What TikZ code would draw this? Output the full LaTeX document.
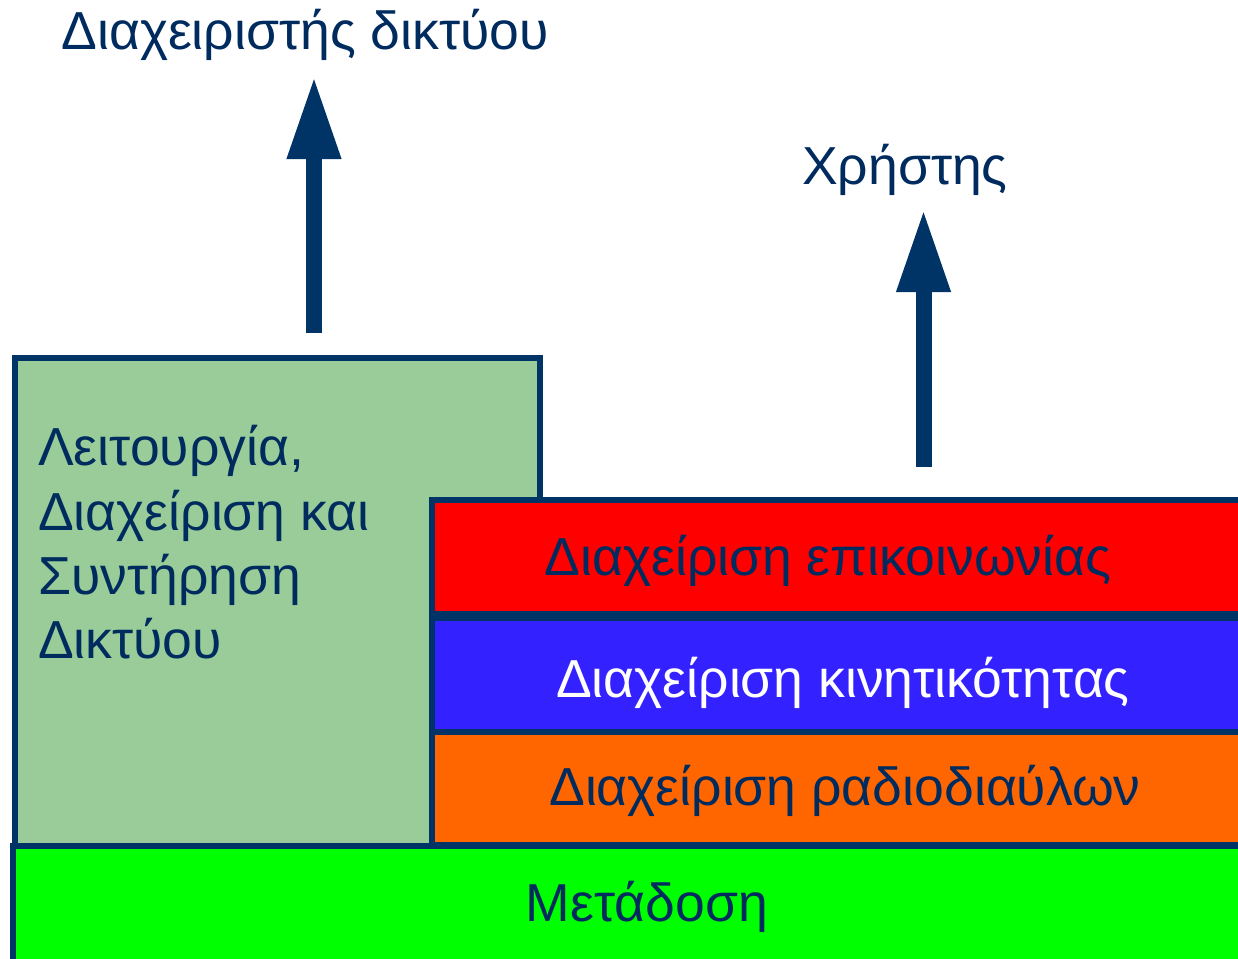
\documentclass[tikz,border=0pt]{standalone}
\usepackage{fontspec}
\setmainfont{Liberation Sans}
\usetikzlibrary{arrows.meta}
\definecolor{navy}{HTML}{003366}
\definecolor{inkblue}{HTML}{002B5E}
\definecolor{sage}{HTML}{99CC99}
\definecolor{bandred}{HTML}{FF0000}
\definecolor{bandblue}{HTML}{3322FF}
\definecolor{bandorange}{HTML}{FF6600}
\definecolor{bandgreen}{HTML}{00FF00}
\tikzset{
  band/.style={draw=navy, line width=6pt, rectangle, inner sep=0pt, outer sep=0pt, anchor=north west},
  label/.style={text=inkblue, inner sep=0pt, font=\fontsize{53.5}{60}\selectfont},
  uparrow/.style={draw=navy, line width=16pt, -{Triangle[width=50pt,length=83pt]}, fill=navy},
}
\begin{document}
\begin{tikzpicture}[x=1pt,y=-1pt]
\useasboundingbox (0,0) rectangle (1238,958);
\clip (0,0) rectangle (1238,958);
% left block: operation and maintenance
\node[band, fill=sage, minimum width=525pt, minimum height=520pt] (oam) at (15,358) {};
% stacked control bands
\node[band, fill=bandred, minimum width=830pt, minimum height=114pt] (comm) at (432,500) {};
\node[band, fill=bandblue, minimum width=830pt, minimum height=114pt] (mob) at (432,618) {};
\node[band, fill=bandorange, minimum width=830pt, minimum height=113pt] (radio) at (432,732) {};
% transmission layer
\node[band, fill=bandgreen, minimum width=1250pt, minimum height=140pt] (trans) at (12.5,846) {};

% texts
\node[label, anchor=base west] (l1) at (38,465) {Λειτουργία,};
\node[label, anchor=base west] (l2) at (38,530) {Διαχείριση και};
\node[label, anchor=base west] (l3) at (38,594) {Συντήρηση};
\node[label, anchor=base west] (l4) at (38,658) {Δικτύου};

\node[label, anchor=base] (tcomm) at (828,575) {Διαχείριση επικοινωνίας};
\node[label, text=white, anchor=base] (tmob) at (843,697) {Διαχείριση κινητικότητας};
\node[label, anchor=base] (tradio) at (845,805) {Διαχείριση ραδιοδιαύλων};
\node[label, anchor=base] (ttrans) at (647,921) {Μετάδοση};

\node[label, anchor=base] (admin) at (305,49) {Διαχειριστής δικτύου};
\node[label, anchor=base] (user) at (905,184) {Χρήστης};

% arrows toward the network administrator and the user
\coordinate (a1s) at (314,333);
\coordinate (a1e) at (314,76);
\coordinate (a2s) at (923.5,467);
\coordinate (a2e) at (923.5,209);
\draw[uparrow] (a1s) -- (a1e);
\draw[uparrow] (a2s) -- (a2e);
\end{tikzpicture}
\end{document}
